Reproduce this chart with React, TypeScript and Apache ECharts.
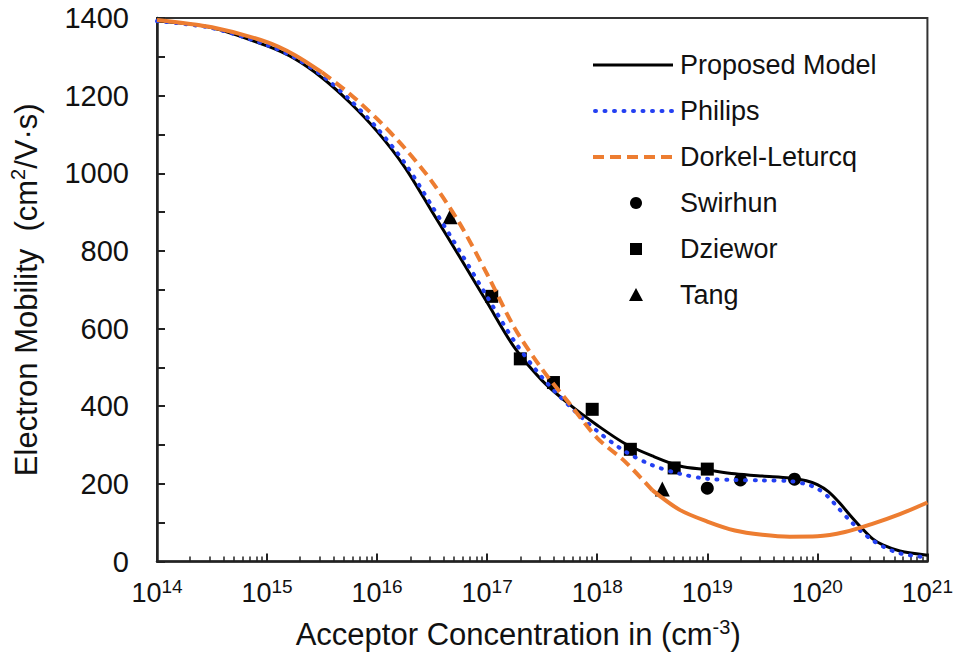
import React, { useEffect, useRef } from "react";
import * as echarts from "echarts";

// Acceptor concentrations (cm^-3) at which the model curves were read
const modelN = [
  1e14, 3.16e14, 1e15, 1.78e15, 3.16e15, 5.62e15, 1e16, 1.78e16, 3.16e16, 5.62e16,
  1e17, 1.78e17, 3.16e17, 5.62e17, 1e18, 1.78e18, 3.16e18, 5.62e18, 1e19, 1.78e19,
  3.16e19, 5.62e19, 7.94e19, 1e20, 1.26e20, 1.58e20, 2e20, 2.51e20, 3.16e20, 3.98e20,
  5.62e20, 1e21,
];
const proposedModel = [
  1392, 1375, 1328, 1295, 1246, 1183, 1108, 1016, 901, 785,
  667, 550, 466, 404, 351, 304, 272, 246, 236, 226,
  220, 215, 208, 198, 180, 152, 118, 87, 59, 42,
  27, 16,
];
const philips = [
  1392, 1374, 1330, 1298, 1252, 1190, 1116, 1027, 915, 800,
  682, 566, 474, 400, 336, 284, 248, 226, 213, 210,
  209, 207, 199, 188, 166, 135, 104, 77, 55, 38,
  21, 10,
];

const dorkelN = [
  1e14, 3.16e14, 1e15, 1.78e15, 3.16e15, 5.62e15, 1e16, 1.78e16, 3.16e16, 5.62e16,
  1e17, 1.78e17, 3.16e17, 5.62e17, 1e18, 1.78e18, 3.16e18, 5.62e18, 1e19, 1.78e19,
  3.16e19, 5.62e19, 1e20, 1.78e20, 3.16e20, 5.62e20, 1e21,
];
const dorkel = [
  1395, 1376, 1338, 1305, 1260, 1205, 1140, 1065, 978, 871,
  740, 601, 495, 406, 318, 258, 184, 133, 103, 80,
  69, 64, 65, 76, 97, 122, 152,
];
// index ranges of the Dorkel-Leturcq curve: solid / dashed / solid
const dorkelDashFrom = 4;
const dorkelDashTo = 16;

const swirhun: [number, number][] = [
  [1e19, 189],
  [2e19, 210],
  [6.2e19, 212],
];
const dziewor: [number, number][] = [
  [1.1e17, 683],
  [2e17, 522],
  [4e17, 461],
  [9e17, 392],
  [2e18, 289],
  [5e18, 241],
  [1e19, 238],
];
const tang: [number, number][] = [
  [4.6e16, 888],
  [3.9e18, 187],
];

const legendNames = ["Proposed Model", "Philips", "Dorkel-Leturcq", "Swirhun", "Dziewor", "Tang"];

const xMin = 1e14;
const xMax = 1e21;
const yMin = 0;
const yMax = 1400;
const yStep = 200;
const decadeExps = [14, 15, 16, 17, 18, 19, 20];
const minorMultipliers = [2, 3, 4, 5, 6, 7, 8, 9];

const FONT = "'Liberation Sans', Arial, Helvetica, sans-serif";

export default function App() {
  const ref = useRef<HTMLDivElement>(null);

  useEffect(() => {
    if (!ref.current) return;
    const chart = echarts.init(ref.current, undefined, { renderer: "svg" });

    const pair = (xs: number[], ys: number[]) => xs.map((x, i) => [x, ys[i]]);
    const dorkelAll = pair(dorkelN, dorkel);
    const minorTicks: number[] = [];
    decadeExps.forEach((e) =>
      minorMultipliers.forEach((m) => minorTicks.push(m * Math.pow(10, e)))
    );

    const black = "#000000";
    const blue = "#2440f2";
    const orange = "#ed7d31";

    // legend layout
    const lgX = 593;
    const lgW = 80;
    const lgY0 = 65;
    const lgStep = 46;
    const lgMid = lgX + 43;
    const rowY = (i: number) => lgY0 + i * lgStep;
    const legendGraphics: any[] = [
      {
        type: "line",
        shape: { x1: lgX, y1: rowY(0), x2: lgX + lgW, y2: rowY(0) },
        style: { stroke: black, lineWidth: 3 },
      },
      {
        type: "line",
        shape: { x1: lgX + 2, y1: rowY(1), x2: lgX + lgW, y2: rowY(1) },
        style: { stroke: blue, lineWidth: 4, lineDash: [1, 8.5], lineCap: "round" },
      },
      {
        type: "line",
        shape: { x1: lgX, y1: rowY(2), x2: lgX + lgW, y2: rowY(2) },
        style: { stroke: orange, lineWidth: 4, lineDash: [11, 6] },
      },
      {
        type: "circle",
        shape: { cx: lgMid, cy: rowY(3), r: 6 },
        style: { fill: black },
      },
      {
        type: "rect",
        shape: { x: lgMid - 6, y: rowY(4) - 6, width: 12, height: 12 },
        style: { fill: black },
      },
      {
        type: "polygon",
        shape: {
          points: [
            [lgMid, rowY(5) - 7],
            [lgMid + 7, rowY(5) + 6],
            [lgMid - 7, rowY(5) + 6],
          ],
        },
        style: { fill: black },
      },
      ...legendNames.map((n, i) => ({
        type: "text",
        x: lgX + lgW + 7,
        y: rowY(i),
        style: {
          text: n,
          fontFamily: FONT,
          fontSize: 27,
          fill: "#111111",
          verticalAlign: "middle",
          align: "left",
        },
      })),
    ];

    const lineBase = { type: "line", xAxisIndex: 0, smooth: 0.3, symbol: "none" };

    chart.setOption({
      animation: false,
      backgroundColor: "#ffffff",
      textStyle: { fontFamily: FONT },
      grid: {
        left: 153,
        right: 17,
        top: 18,
        bottom: 90,
        show: true,
        borderColor: "#333333",
        borderWidth: 2,
        backgroundColor: "transparent",
      },
      graphic: legendGraphics,
      xAxis: [
        {
          type: "log",
          logBase: 10,
          min: xMin,
          max: xMax,
          splitNumber: 7,
          axisLine: { show: true, lineStyle: { color: "#222222", width: 2.5 } },
          axisTick: { show: true, inside: true, length: 8, lineStyle: { color: "#222222", width: 2 } },
          splitLine: { show: false },
          axisLabel: {
            margin: 15,
            formatter: (v: number) => `{b|10}{s|${Math.round(Math.log10(v))}}`,
            rich: {
              b: { fontFamily: FONT, fontSize: 27, lineHeight: 32, color: "#111111" },
              s: { fontFamily: FONT, fontSize: 19, lineHeight: 22, verticalAlign: "top", color: "#111111" },
            },
          },
          name: "{t|Acceptor Concentration in (cm}{s|-3}{t|)}",
          nameLocation: "middle",
          nameGap: 55,
          nameTextStyle: {
            padding: [0, 48, 0, 0],
            rich: {
              t: { fontFamily: FONT, fontSize: 31, lineHeight: 36, color: "#111111" },
              s: { fontFamily: FONT, fontSize: 20, lineHeight: 24, verticalAlign: "top", color: "#111111" },
            },
          },
        },
        {
          type: "log",
          logBase: 10,
          min: xMin,
          max: xMax,
          position: "bottom",
          axisLine: { show: false },
          axisLabel: { show: false },
          splitLine: { show: false },
          axisTick: {
            show: true,
            inside: true,
            length: 5,
            customValues: minorTicks,
            lineStyle: { color: "#222222", width: 1.5 },
          },
        },
      ],
      yAxis: {
        type: "value",
        min: yMin,
        max: yMax,
        interval: yStep,
        axisLine: { show: true, lineStyle: { color: "#222222", width: 2.5 } },
        axisTick: { show: true, inside: true, length: 8, lineStyle: { color: "#222222", width: 2 } },
        minorTick: { show: true, splitNumber: 2, length: 8, lineStyle: { color: "#222222", width: 2 } },
        splitLine: { show: false },
        axisLabel: {
          fontFamily: FONT,
          fontSize: 29,
          color: "#111111",
          margin: 28,
          formatter: (v: number) => String(v),
        },
        name: "{t|Electron Mobility  (cm}{s|2}{t|/V·s)}",
        nameLocation: "middle",
        nameGap: 113,
        nameTextStyle: {
          rich: {
            t: { fontFamily: FONT, fontSize: 31, lineHeight: 36, color: "#111111" },
            s: { fontFamily: FONT, fontSize: 20, lineHeight: 24, verticalAlign: "top", color: "#111111" },
          },
        },
      },
      series: [
        {
          ...lineBase,
          name: "Proposed Model",
          data: pair(modelN, proposedModel),
          lineStyle: { color: black, width: 3 },
          itemStyle: { color: black },
        },
        {
          ...lineBase,
          name: "Philips",
          data: pair(modelN, philips),
          lineStyle: { color: blue, width: 4, type: [1, 8.5], cap: "round" },
          itemStyle: { color: blue },
        },
        {
          ...lineBase,
          name: "Dorkel-Leturcq",
          data: dorkelAll.slice(dorkelDashFrom, dorkelDashTo + 1),
          lineStyle: { color: orange, width: 4, type: [11, 6] },
          itemStyle: { color: orange },
        },
        {
          ...lineBase,
          name: "Dorkel-Leturcq",
          data: dorkelAll.slice(0, dorkelDashFrom + 1),
          lineStyle: { color: orange, width: 4 },
          itemStyle: { color: orange },
        },
        {
          ...lineBase,
          name: "Dorkel-Leturcq",
          data: dorkelAll.slice(dorkelDashTo),
          lineStyle: { color: orange, width: 4 },
          itemStyle: { color: orange },
        },
        {
          name: "Swirhun",
          type: "scatter",
          xAxisIndex: 0,
          data: swirhun,
          symbol: "circle",
          symbolSize: 13,
          itemStyle: { color: black, opacity: 1 },
        },
        {
          name: "Dziewor",
          type: "scatter",
          xAxisIndex: 0,
          data: dziewor,
          symbol: "rect",
          symbolSize: 13,
          itemStyle: { color: black, opacity: 1 },
        },
        {
          name: "Tang",
          type: "scatter",
          xAxisIndex: 0,
          data: tang,
          symbol: "triangle",
          symbolSize: 15,
          itemStyle: { color: black, opacity: 1 },
        },
      ],
    });

    return () => chart.dispose();
  }, []);

  return <div ref={ref} style={{ width: 956, height: 655, position: "absolute", left: 0, top: 0 }} />;
}
